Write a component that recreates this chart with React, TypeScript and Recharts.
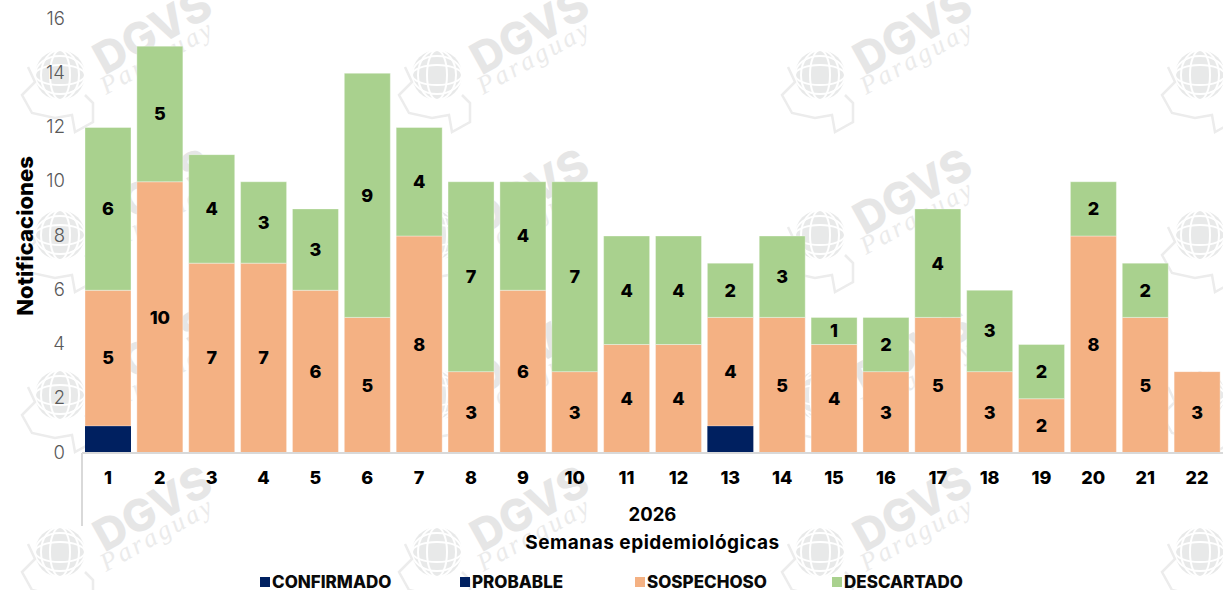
import { Bar, BarChart, Legend, LabelList, XAxis, YAxis } from 'recharts';

const weeks = [1, 2, 3, 4, 5, 6, 7, 8, 9, 10, 11, 12, 13, 14, 15, 16, 17, 18, 19, 20, 21, 22];
const confirmado = [1, 0, 0, 0, 0, 0, 0, 0, 0, 0, 0, 0, 1, 0, 0, 0, 0, 0, 0, 0, 0, 0];
const probable = [0, 0, 0, 0, 0, 0, 0, 0, 0, 0, 0, 0, 0, 0, 0, 0, 0, 0, 0, 0, 0, 0];
const sospechoso = [5, 10, 7, 7, 6, 5, 8, 3, 6, 3, 4, 4, 4, 5, 4, 3, 5, 3, 2, 8, 5, 3];
const descartado = [6, 5, 4, 3, 3, 9, 4, 7, 4, 7, 4, 4, 2, 3, 1, 2, 4, 3, 2, 2, 2, 0];
const yTicks = [0, 2, 4, 6, 8, 10, 12, 14, 16];
const year = '2026';

const data = weeks.map((week, i) => ({
  week,
  year,
  confirmado: confirmado[i],
  probable: probable[i],
  sospechoso: sospechoso[i],
  descartado: descartado[i],
}));

const FONT = 'Inter, "Open Sans", sans-serif';
const NAVY = '#002060';
const ORANGE = '#F4B183';
const GREEN = '#A9D18E';

const legendItems = [
  { name: 'CONFIRMADO', color: NAVY, width: 200 },
  { name: 'PROBABLE', color: NAVY, width: 175 },
  { name: 'SOSPECHOSO', color: ORANGE, width: 197 },
  { name: 'DESCARTADO', color: GREEN, width: 180 },
];

// logo repeated behind the plot
const wmCols = [60, 437, 820, 1200];
const wmRows = [75, 235, 395, 552];

const Watermark = ({ x, y }: { x: number; y: number }) => (
  <g transform={`translate(${x},${y})`}>
    <circle r={25} fill="#e8e9e9" />
    <g stroke="#fff" strokeWidth={2} fill="none">
      <ellipse rx={10} ry={25} />
      <ellipse rx={19} ry={25} />
      <ellipse rx={25} ry={10} />
      <ellipse rx={25} ry={19} />
    </g>
    <path
      d="M-32,-8 L-25,7 L-38,20 L-28,38 L-5,43 L12,40 L15,57 L33,47 L33,28 L25,20"
      fill="none"
      stroke="#ececec"
      strokeWidth={2.5}
    />
    <text
      x={100}
      y={-30}
      textAnchor="middle"
      transform="rotate(-29 100 -30)"
      fontFamily={FONT}
      fontWeight={800}
      fontSize={44}
      fill="#e6e6e6"
    >
      DGVS
    </text>
    <text
      x={46}
      y={20}
      transform="rotate(-29 46 20)"
      fontFamily='"Liberation Serif", serif'
      fontStyle="italic"
      fontSize={26}
      letterSpacing={3}
      fill="#ebebeb"
    >
      Paraguay
    </text>
  </g>
);

const ChartLegend = () => (
  <div style={{ display: 'flex', marginLeft: 260, paddingTop: 14, fontFamily: FONT, fontWeight: 800, fontSize: 17, color: '#0a0a0a' }}>
    {legendItems.map((item) => (
      <div key={item.name} style={{ width: item.width, display: 'flex', alignItems: 'center', gap: 2 }}>
        <span style={{ width: 10, height: 10, background: item.color, display: 'inline-block' }} />
        <span>{item.name}</span>
      </div>
    ))}
  </div>
);

const hideZero = (value: any) => (value ? value : '');

const barLabel = { fill: '#000', fontFamily: FONT, fontWeight: 800, fontSize: 18 };

export default function App() {
  return (
    <div style={{ position: 'absolute', left: 0, top: 0, width: 1223, height: 590, overflow: 'hidden', background: '#fff' }}>
      <svg width={1223} height={590} style={{ position: 'absolute', left: 0, top: 0 }}>
        {wmRows.map((y) => wmCols.map((x) => <Watermark key={`${x}-${y}`} x={x} y={y} />))}
      </svg>
      <div style={{ position: 'absolute', left: 0, top: 0 }}>
        <BarChart
          width={1223}
          height={590}
          data={data}
          barSize={46}
          margin={{ top: 19, right: 0, left: 0, bottom: 0 }}
        >
          <XAxis
            dataKey="week"
            xAxisId="week"
            height={36}
            tickLine={false}
            axisLine={{ stroke: '#d9d9d9', strokeWidth: 2 }}
            tickMargin={12}
            tick={{ fill: '#000', fontFamily: FONT, fontWeight: 800, fontSize: 18 }}
            interval={0}
          />
          <XAxis
            dataKey="year"
            xAxisId="year"
            height={69}
            allowDuplicatedCategory={false}
            tickLine={false}
            axisLine={false}
            tickMargin={13}
            tick={{ fill: '#000', fontFamily: FONT, fontWeight: 700, fontSize: 18.5 }}
            label={{
              value: 'Semanas epidemiológicas',
              position: 'insideBottom',
              offset: 9,
              fill: '#000',
              fontFamily: FONT,
              fontWeight: 700,
              fontSize: 19,
              letterSpacing: 0.5,
            }}
          />
          <YAxis
            width={82}
            domain={[0, 16]}
            ticks={yTicks}
            tickLine={false}
            axisLine={false}
            tickSize={0}
            tickMargin={17}
            tick={{ fill: '#595959', fontFamily: FONT, fontWeight: 300, fontSize: 18.5, dy: -1 }}
            label={{
              value: 'Notificaciones',
              angle: -90,
              position: 'insideLeft',
              offset: 25,
              style: { textAnchor: 'middle' },
              fill: '#000',
              fontFamily: FONT,
              fontWeight: 800,
              fontSize: 22,
            }}
          />
          <Legend verticalAlign="bottom" height={32} content={<ChartLegend />} />
          <Bar dataKey="confirmado" name="CONFIRMADO" stackId="a" xAxisId="week" fill={NAVY} isAnimationActive={false} />
          <Bar dataKey="probable" name="PROBABLE" stackId="a" xAxisId="week" fill={NAVY} isAnimationActive={false} />
          <Bar dataKey="sospechoso" name="SOSPECHOSO" stackId="a" xAxisId="week" fill={ORANGE} stroke="rgba(255,255,255,0.35)" isAnimationActive={false}>
            <LabelList dataKey="sospechoso" position="center" formatter={hideZero} {...barLabel} />
          </Bar>
          <Bar dataKey="descartado" name="DESCARTADO" stackId="a" xAxisId="week" fill={GREEN} stroke="rgba(255,255,255,0.35)" isAnimationActive={false}>
            <LabelList dataKey="descartado" position="center" formatter={hideZero} {...barLabel} />
          </Bar>
          <line x1={82} y1={453} x2={82} y2={526} stroke="#d9d9d9" strokeWidth={2} />
        </BarChart>
      </div>
    </div>
  );
}
